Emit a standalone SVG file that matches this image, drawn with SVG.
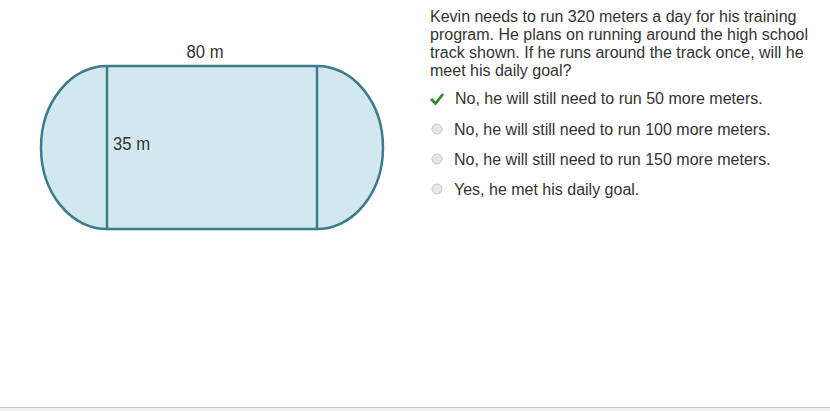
<svg xmlns="http://www.w3.org/2000/svg" width="830" height="411" viewBox="0 0 830 411">
<style>
.t{font-family:"Liberation Sans",Arial,sans-serif;font-size:16px;fill:#333}
.lbl{font-family:"Liberation Sans",Arial,sans-serif;font-size:18px;fill:#333}
.trk{fill:#d2e8ef;stroke:#3b7a88;stroke-width:2.5}
.radio{fill:#e6e6e6;stroke:#c8c8c8;stroke-width:1}
</style>
<rect width="830" height="411" fill="#fff"/>
<g id="track">
<path class="trk" d="M107,66 L317,66 A66,81.5 0 0 1 317,229 L107,229 A66,81.5 0 0 1 107,66 Z"/>
<line x1="107" y1="66" x2="107" y2="229" stroke="#3b7a88" stroke-width="2.5"/>
<line x1="317" y1="66" x2="317" y2="229" stroke="#3b7a88" stroke-width="2.5"/>
<text class="lbl" x="205" y="58" text-anchor="middle" textLength="37" lengthAdjust="spacingAndGlyphs">80 m</text>
<text class="lbl" x="113" y="150" textLength="37" lengthAdjust="spacingAndGlyphs">35 m</text>
</g>
<g id="question">
<text class="t" x="430" y="22">Kevin needs to run 320 meters a day for his training</text>
<text class="t" x="430" y="40">program. He plans on running around the high school</text>
<text class="t" x="430" y="58">track shown. If he runs around the track once, will he</text>
<text class="t" x="430" y="76">meet his daily goal?</text>
</g>
<g id="options">
<path d="M431,99 L435.5,103.5 L443,94" fill="none" stroke="#2e8b2e" stroke-width="2.8"/>
<text class="t" x="455" y="104">No, he will still need to run 50 more meters.</text>
<circle class="radio" cx="437" cy="129" r="5"/>
<text class="t" x="454" y="135">No, he will still need to run 100 more meters.</text>
<circle class="radio" cx="437" cy="159" r="5"/>
<text class="t" x="454" y="165">No, he will still need to run 150 more meters.</text>
<circle class="radio" cx="437" cy="189" r="5"/>
<text class="t" x="454" y="195">Yes, he met his daily goal.</text>
</g>
<rect x="0" y="407" width="830" height="4" fill="#efefef"/>
<line x1="0" y1="407.5" x2="830" y2="407.5" stroke="#c8c8c8" stroke-width="1"/>
</svg>
